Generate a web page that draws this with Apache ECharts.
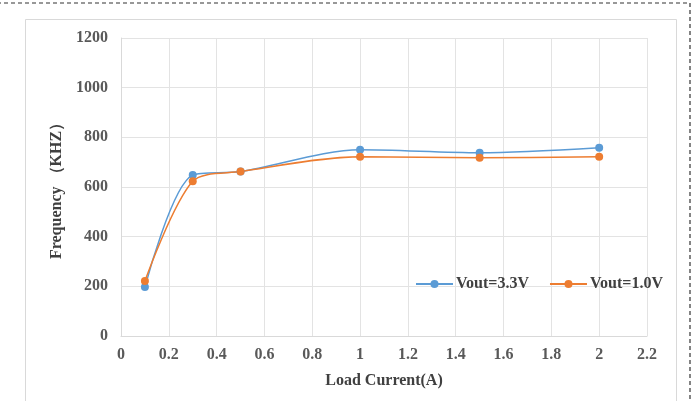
<!DOCTYPE html>
<html>
<head>
<meta charset="utf-8">
<script src="https://cdn.jsdelivr.net/npm/echarts@6/dist/echarts.min.js"></script>
<style>html,body{margin:0;padding:0;background:#fff;}#c{width:694px;height:401px;}</style>
</head>
<body>
<div id="c"></div>
<script>
var loadCurrent = [0.1, 0.3, 0.5, 1.0, 1.5, 2.0];
var vout33 = [197, 648, 662, 750, 738, 758];
var vout10 = [221, 623, 662, 722, 718, 722];
var seriesNames = ['Vout=3.3V', 'Vout=1.0V'];
var xAxisTitle = 'Load Current(A)';
var yAxisTitle = 'Frequency （KHZ）';

function pairs(xs, ys) { return xs.map(function (x, i) { return [x, ys[i]]; }); }

var FONT = '"Liberation Serif", "Times New Roman", serif';
var chart = echarts.init(document.getElementById('c'));
chart.setOption({
  backgroundColor: '#fff',
  animation: false,
  graphic: [
    { type: 'rect', z: -10, shape: { x: -10, y: 3, width: 700, height: 500 },
      style: { fill: 'none', stroke: '#333', lineWidth: 1.2, lineDash: [4, 3] } },
    { type: 'rect', z: -10, shape: { x: 25.5, y: 19.5, width: 651, height: 500 },
      style: { fill: 'none', stroke: '#d9d9d9', lineWidth: 1 } }
  ],
  grid: { left: 121, right: 47, top: 38, bottom: 65 },
  legend: {
    left: 410, top: 271, itemWidth: 37, itemHeight: 10, itemGap: 20,
    textStyle: { fontFamily: FONT, fontSize: 16, fontWeight: 'bold', color: '#404040', padding: [0, 0, 0, -2] },
    data: seriesNames
  },
  xAxis: {
    type: 'value', min: 0, max: 2.2, interval: 0.2,
    name: xAxisTitle, nameLocation: 'middle', nameGap: 37,
    nameTextStyle: { fontFamily: FONT, fontSize: 16, fontWeight: 'bold', color: '#404040' },
    axisLine: { show: true, lineStyle: { color: '#d9d9d9' } },
    axisTick: { show: false },
    axisLabel: { margin: 11, fontFamily: FONT, fontSize: 16, fontWeight: 'bold', color: '#595959' },
    splitLine: { show: true, lineStyle: { color: '#e3e3e3' } }
  },
  yAxis: {
    type: 'value', min: 0, max: 1200, interval: 200,
    name: yAxisTitle, nameLocation: 'middle', nameGap: 52, nameRotate: 90,
    nameTextStyle: { fontFamily: FONT, fontSize: 16, fontWeight: 'bold', color: '#404040' },
    axisLine: { show: true, lineStyle: { color: '#d9d9d9' } },
    axisTick: { show: false },
    axisLabel: { margin: 13, fontFamily: FONT, fontSize: 16, fontWeight: 'bold', color: '#595959',
      formatter: function (v) { return String(v); } },
    splitLine: { show: true, lineStyle: { color: '#e3e3e3' } }
  },
  series: [
    { name: seriesNames[0], type: 'line', smooth: 0.3, data: pairs(loadCurrent, vout33),
      symbol: 'circle', symbolSize: 8, color: '#5B9BD5', lineStyle: { width: 1.5 } },
    { name: seriesNames[1], type: 'line', smooth: 0.3, data: pairs(loadCurrent, vout10),
      symbol: 'circle', symbolSize: 8, color: '#ED7D31', lineStyle: { width: 1.5 } }
  ]
});
</script>
</body>
</html>
